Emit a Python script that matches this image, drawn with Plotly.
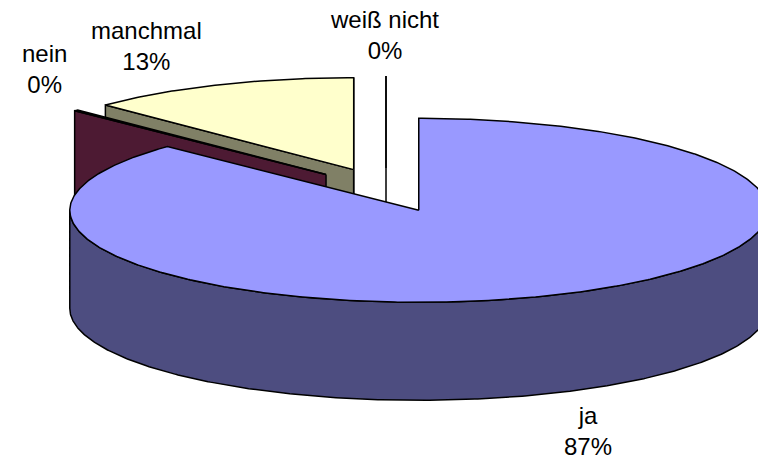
import numpy as np
import plotly.graph_objects as go

# ---- data ----
labels = ["ja", "nein", "manchmal", "weiß nicht"]
values = [87.2, 0.2, 12.6, 0.0]
top_colors = ["#9999FF", "#993366", "#FFFFCC", "#CCFFFF"]
side_colors = ["#4D4D80", "#4D1A33", "#808066", "#668080"]
label_pos = [(588, 431), (44, 69), (146, 46), (384, 35)]  # label block centers (px)

# ---- 3D pie style parameters (unit radius) ----
TILT = 0.2636      # vertical squash of the top ellipse
DEPTH = 0.2808     # thickness of the pie
EXPLODE = 0.24     # explosion distance of every slice
W, H = 758, 461
PX = 349.0         # pixels per unit radius
CX_PX, CY_PX = 386, 190   # pie centre on the page

total = float(sum(values))


def pt(ox, oy, phi, dz=0.0, r=1.0):
    a = np.radians(phi)
    return ox + r * np.sin(a), oy + TILT * r * np.cos(a) - dz


def arc(ox, oy, a1, a2, dz=0.0):
    n = max(2, int(abs(a2 - a1) / 0.5) + 2)
    phis = np.linspace(a1, a2, n)
    xs, ys = pt(ox, oy, phis, dz)
    return list(xs), list(ys)


fig = go.Figure()


def add_poly(xs, ys, color):
    fig.add_trace(go.Scatter(
        x=xs + [xs[0]], y=ys + [ys[0]], mode="lines", fill="toself",
        fillcolor=color, line=dict(color="black", width=1.5),
        hoverinfo="skip", showlegend=False))


slices = []
start = 0.0
for i, v in enumerate(values):
    a1 = start
    a2 = start + 360.0 * v / total
    start = a2
    m = np.radians((a1 + a2) / 2)
    ox = EXPLODE * np.sin(m)
    oy = EXPLODE * TILT * np.cos(m)
    slices.append(dict(i=i, a1=a1, a2=a2, ox=ox, oy=oy, depthkey=np.cos(m)))

# painter's order: back slices first
for s in sorted(slices, key=lambda s: -s["depthkey"]):
    i, a1, a2, ox, oy = s["i"], s["a1"], s["a2"], s["ox"], s["oy"]
    # radial walls
    for phi, vis in ((a1, np.sin(np.radians(a1)) <= 1e-9),
                     (a2, np.sin(np.radians(a2)) >= -1e-9 and a2 - a1 > 0)):
        if vis:
            x0, y0 = pt(ox, oy, phi)
            x1, y1 = pt(ox, oy, phi, DEPTH)
            add_poly([ox, x0, x1, ox], [oy, y0, y1, oy - DEPTH], side_colors[i])
    # outer front side
    lo, hi = max(a1, 90.0), min(a2, 270.0)
    if hi > lo:
        tx, ty = arc(ox, oy, lo, hi)
        bx, by = arc(ox, oy, hi, lo, DEPTH)
        add_poly(tx + bx, ty + by, side_colors[i])
    # top face
    tx, ty = arc(ox, oy, a1, a2)
    add_poly([ox] + tx, [oy] + ty, top_colors[i])

# labels
for i, lab in enumerate(labels):
    pct = 100.0 * values[i] / total
    lx, ly = label_pos[i]
    fig.add_annotation(
        x=(lx - CX_PX) / PX, y=(CY_PX - ly) / PX, xref="x", yref="y",
        text=f"{lab}<br>{pct:.0f}%", showarrow=False,
        font=dict(family="Arial, Liberation Sans, sans-serif", size=24, color="black"),
        align="center", xanchor="center", yanchor="middle")

fig.update_layout(
    width=W, height=H, autosize=False,
    margin=dict(l=0, r=0, t=0, b=0),
    paper_bgcolor="white", plot_bgcolor="white",
    xaxis=dict(range=[-CX_PX / PX, (W - CX_PX) / PX], visible=False, fixedrange=True),
    yaxis=dict(range=[(CY_PX - H) / PX, CY_PX / PX], visible=False, fixedrange=True),
)

fig.write_html(
    "out.html",
    config={"displayModeBar": False},
    post_script="document.body.style.margin='0';document.body.style.overflow='hidden';",
)
